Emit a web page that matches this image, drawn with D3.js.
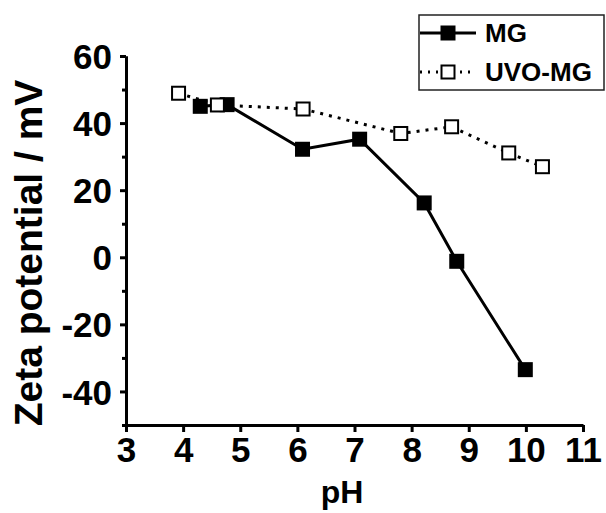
<!DOCTYPE html>
<meta charset="utf-8">
<style>
body { margin: 0; background: #fff; }
svg { display: block; font-family: "Liberation Sans", Arial, sans-serif; font-weight: bold; }
.axis path, .axis line { stroke: #000; stroke-width: 3; fill: none; }
.axis text { font-size: 35px; font-family: "Liberation Sans", Arial, sans-serif; font-weight: bold; fill: #000; }
</style>
<body>
<script src="https://cdn.jsdelivr.net/npm/d3@7"></script>
<script>

// data
var seriesNames = ['MG', 'UVO-MG'],
    mgPH   = [4.3, 4.77, 6.09, 7.09, 8.22, 8.79, 9.99],
    mgZeta = [45, 45.5, 32.2, 35.2, 16.2, -1.2, -33.5],
    uvoPH   = [3.92, 4.6, 6.1, 7.81, 8.7, 9.7, 10.29],
    uvoZeta = [48.9, 45.4, 44.2, 36.9, 38.9, 31.1, 27.0],
    xTicks = [3, 4, 5, 6, 7, 8, 9, 10, 11],
    yTicks = [-40, -20, 0, 20, 40, 60],
    yMinorTicks = [-50, -30, -10, 10, 30, 50];

var W = 606, H = 513,
    margin = {top: 56, right: 23, bottom: 88, left: 126},
    mk = 15;

var svg = d3.select("body").append("svg")
    .attr("width", W)
    .attr("height", H);

var xScale = d3.scaleLinear().domain([3, 11]).range([margin.left, W - margin.right]),
    yScale = d3.scaleLinear().domain([-50, 60]).range([H - margin.bottom, margin.top]);

var mgData = mgPH.map(function(d, i) { return {x: d, y: mgZeta[i]}; }),
    uvoData = uvoPH.map(function(d, i) { return {x: d, y: uvoZeta[i]}; });

// plain hyphen for negatives, like the original
var fmt = function(d) { return String(d); };

// axes
svg.append("g")
    .attr("class", "axis")
    .attr("transform", "translate(0," + (H - margin.bottom) + ")")
    .call(d3.axisBottom(xScale).tickValues(xTicks).tickSize(7).tickPadding(5).tickSizeOuter(0).tickFormat(fmt));

svg.append("g")
    .attr("class", "axis")
    .attr("transform", "translate(" + margin.left + ",0)")
    .call(d3.axisLeft(yScale).tickValues(yMinorTicks).tickSize(4).tickFormat("").tickSizeOuter(0));

svg.append("g")
    .attr("class", "axis")
    .attr("transform", "translate(" + margin.left + ",0)")
    .call(d3.axisLeft(yScale).tickValues(yTicks).tickSize(6).tickPadding(8).tickSizeOuter(0).tickFormat(fmt))
    .selectAll("text").attr("dy", "0.36em");

// axis titles
svg.append("text")
    .attr("x", 342)
    .attr("y", 503)
    .attr("text-anchor", "middle")
    .style("font-size", "32px")
    .text("pH");

svg.append("text")
    .attr("transform", "translate(42," + 253 + ") rotate(-90)")
    .attr("text-anchor", "middle")
    .style("font-size", "39px")
    .text("Zeta potential / mV");

// lines
var line = d3.line().x(function(d) { return xScale(d.x); }).y(function(d) { return yScale(d.y); });

svg.append("path")
    .datum(uvoData)
    .attr("d", line)
    .attr("fill", "none")
    .attr("stroke", "#000")
    .attr("stroke-width", 3)
    .attr("stroke-dasharray", "3,6");

svg.append("path")
    .datum(mgData)
    .attr("d", line)
    .attr("fill", "none")
    .attr("stroke", "#000")
    .attr("stroke-width", 3);

// markers
svg.selectAll(".mg")
    .data(mgData)
  .enter().append("rect")
    .attr("class", "mg")
    .attr("x", function(d) { return xScale(d.x) - mk / 2; })
    .attr("y", function(d) { return yScale(d.y) - mk / 2; })
    .attr("width", mk)
    .attr("height", mk)
    .attr("fill", "#000");

svg.selectAll(".uvo")
    .data(uvoData)
  .enter().append("rect")
    .attr("class", "uvo")
    .attr("x", function(d) { return xScale(d.x) - (mk - 2) / 2; })
    .attr("y", function(d) { return yScale(d.y) - (mk - 2) / 2; })
    .attr("width", mk - 2)
    .attr("height", mk - 2)
    .attr("fill", "#fff")
    .attr("stroke", "#000")
    .attr("stroke-width", 2);

// legend
var legend = svg.append("g");

legend.append("rect")
    .attr("x", 419)
    .attr("y", 15)
    .attr("width", 185)
    .attr("height", 75)
    .attr("fill", "#fff")
    .attr("stroke", "#222")
    .attr("stroke-width", 1.5);

var rows = legend.selectAll(".lg")
    .data(seriesNames)
  .enter().append("g")
    .attr("class", "lg")
    .attr("transform", function(d, i) { return "translate(0," + (33 + i * 39) + ")"; });

rows.append("line")
    .attr("x1", 420).attr("x2", 476)
    .attr("stroke", "#000")
    .attr("stroke-width", 3)
    .attr("stroke-dasharray", function(d, i) { return i ? "2,6" : null; });

rows.append("rect")
    .attr("x", function(d, i) { return i ? 448 - 6.5 : 448 - 7.5; })
    .attr("y", function(d, i) { return i ? -6.5 : -7.5; })
    .attr("width", function(d, i) { return i ? 13 : 15; })
    .attr("height", function(d, i) { return i ? 13 : 15; })
    .attr("fill", function(d, i) { return i ? "#fff" : "#000"; })
    .attr("stroke", function(d, i) { return i ? "#000" : "none"; })
    .attr("stroke-width", 2);

rows.append("text")
    .attr("x", 485)
    .attr("dy", "0.36em")
    .style("font-size", "26px")
    .text(function(d) { return d; });

</script>
